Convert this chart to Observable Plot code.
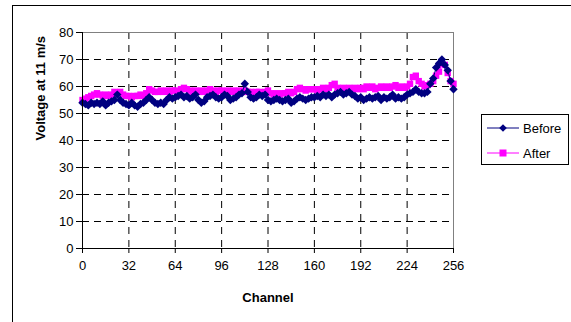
<!DOCTYPE html>
<html>
<head>
<meta charset="utf-8">
<script src="https://cdn.jsdelivr.net/npm/d3@7"></script>
<script src="https://cdn.jsdelivr.net/npm/@observablehq/plot@0.6"></script>
<style>
  html, body { margin: 0; padding: 0; background: #fff; }
  #wrap { position: relative; width: 571px; height: 322px; overflow: hidden; font-family: "Liberation Sans", Arial, sans-serif; }
  #border { position: absolute; left: 12px; top: 5px; width: 700px; height: 400px; border-left: 1.5px solid #000; border-top: 1.5px solid #000; }
  #legend { position: absolute; left: 481px; top: 114px; width: 86px; height: 49px; border: 1px solid #000; background: #fff; font-size: 13px; }
  #legend .row { position: absolute; left: 4px; height: 16px; display: flex; align-items: center; }
  #legend svg { display: block; }
  #legend span { margin-left: 3px; }
</style>
</head>
<body>
<div id="wrap">
  <div id="border"></div>
  <div id="chart"></div>
  <div id="legend"></div>
</div>
<script>
// Channels sampled every 2
const channels = d3.range(0, 257, 2);

const before = [
  54, 53.5, 53, 54, 53.5, 54, 53.5, 54.5, 53, 54, 54.5, 55, 57, 55, 54, 53.5,
  53, 54, 53, 52.5, 53.5, 54, 55, 56, 55, 54, 53.5, 54, 53.5, 55, 56, 55.5,
  56, 56.5, 57, 56, 56.5, 55.5, 56, 57, 55, 54, 54.5, 56, 56.5, 57, 56, 55.5,
  56, 57, 56.5, 55, 55.5, 56, 57, 57.5, 61, 58, 56, 55.5, 56, 57, 56.5, 57,
  55, 54.5, 55, 55.5, 55, 54.5, 55, 55.5, 54, 54.5, 55.5, 56, 55.5, 55, 55.5, 56,
  56, 56.5, 56, 57, 56.5, 57, 56, 57, 57.5, 58, 57, 57.5, 58, 57, 56.5, 55.5,
  56, 55, 55.5, 56, 55.5, 56, 56.5, 55, 56, 55.5, 56, 57, 55.5, 56, 55.5, 56,
  57, 57.5, 58, 59, 58, 57.5, 57.5, 58, 61, 63, 67, 68.5, 70, 68, 66, 62,
  59
];

const after = [
  55, 55.5, 56, 56.5, 57, 57.5, 57, 56.5, 57, 56.5, 57, 58, 57.5, 58, 57, 56.5,
  56.5, 56, 56.5, 56.5, 57, 56.5, 57.5, 59, 58.5, 58, 58, 58.5, 58, 58.5, 58, 58.5,
  58.5, 58, 59, 59.5, 59, 58.5, 58, 58.5, 58, 58.5, 58, 58.5, 59, 58.5, 58, 58.5,
  58.5, 58, 58.5, 58, 58.5, 58, 58.5, 58, 58.5, 58, 58, 57.5, 58, 58, 57.5, 58,
  58.5, 57.5, 57, 57.5, 57, 57.5, 57.5, 58, 57.5, 58, 59, 59.5, 59, 58.5, 59, 59,
  59, 58.5, 59, 59.5, 59, 59.5, 60.5, 61, 59.5, 59, 59.5, 59, 59.5, 59, 59.5, 59,
  59.5, 59, 60, 59.5, 60, 59, 59.5, 60, 59.5, 60, 59.5, 60, 60.5, 59.5, 60, 59.5,
  60, 61, 63.5, 64, 62, 61, 60, 60.5, 61, 62, 64, 65.5, 68.5, 68, 65, 62,
  61
];

const xTicks = [0, 32, 64, 96, 128, 160, 192, 224, 256];
const yTicks = [0, 10, 20, 30, 40, 50, 60, 70, 80];
const seriesNames = ["Before", "After"];
const seriesColors = ["#000080", "#FF00FF"];
const xLabel = "Channel";
const yLabel = "Voltage at 11 m/s";

const dBefore = channels.map((c, i) => ({c, v: before[i]}));
const dAfter = channels.map((c, i) => ({c, v: after[i]}));

const chart = Plot.plot({
  width: 571,
  height: 322,
  marginLeft: 82,
  marginRight: 118,
  marginTop: 32,
  marginBottom: 74,
  style: { fontFamily: "Liberation Sans, Arial, sans-serif", fontSize: "13px", background: "transparent", overflow: "visible" },
  x: { domain: [0, 256] },
  y: { domain: [0, 80] },
  marks: [
    Plot.ruleY(yTicks.filter(t => t > 0 && t < 80), { stroke: "#000", strokeWidth: 1, strokeDasharray: "7,5" }),
    Plot.ruleX(xTicks.filter(t => t > 0 && t < 256), { stroke: "#000", strokeWidth: 1, strokeDasharray: "7,6" }),
    Plot.frame({ stroke: "#808080", strokeWidth: 1 }),
    Plot.line(dAfter, { x: "c", y: "v", stroke: seriesColors[1], strokeWidth: 1 }),
    Plot.dot(dAfter, { x: "c", y: "v", symbol: "square", r: 3.6, fill: seriesColors[1], stroke: "none" }),
    Plot.line(dBefore, { x: "c", y: "v", stroke: seriesColors[0], strokeWidth: 1 }),
    Plot.dot(dBefore, { x: "c", y: "v", symbol: "diamond2", r: 3.8, fill: seriesColors[0], stroke: "none" }),
    Plot.ruleY([0], { stroke: "#000", strokeWidth: 1 }),
    Plot.ruleX([0], { stroke: "#000", strokeWidth: 1 }),
    Plot.axisX({ ticks: xTicks, tickSize: 5, tickPadding: 7, label: null, tickFormat: d => d, stroke: "#000", color: "#000" }),
    Plot.axisY({ ticks: yTicks, tickSize: 6, tickPadding: 3, label: null, tickFormat: d => d, stroke: "#000", color: "#000" }),
    Plot.text([xLabel], { frameAnchor: "bottom", dy: 49, text: d => d, fontWeight: "bold", fontSize: 13, lineAnchor: "middle", fill: "#000" }),
    Plot.text([yLabel], { frameAnchor: "left", dx: -42, text: d => d, rotate: -90, fontWeight: "bold", fontSize: 13, lineAnchor: "middle", fill: "#000" })
  ]
});
document.getElementById("chart").appendChild(chart);

// Legend
const legend = document.getElementById("legend");
seriesNames.forEach((name, i) => {
  const row = document.createElement("div");
  row.className = "row";
  row.style.top = (i === 0 ? 5 : 30) + "px";
  const s = d3.create("svg").attr("width", 34).attr("height", 16);
  s.append("line").attr("x1", 1).attr("x2", 33).attr("y1", 8).attr("y2", 8).attr("stroke", seriesColors[i]).attr("stroke-width", 1);
  if (i === 0) {
    s.append("path").attr("d", "M17,4.2L20.8,8L17,11.8L13.2,8Z").attr("fill", seriesColors[i]);
  } else {
    s.append("rect").attr("x", 13.5).attr("y", 4.5).attr("width", 7).attr("height", 7).attr("fill", seriesColors[i]);
  }
  row.appendChild(s.node());
  const t = document.createElement("span");
  t.textContent = name;
  row.appendChild(t);
  legend.appendChild(row);
});
</script>
</body>
</html>
